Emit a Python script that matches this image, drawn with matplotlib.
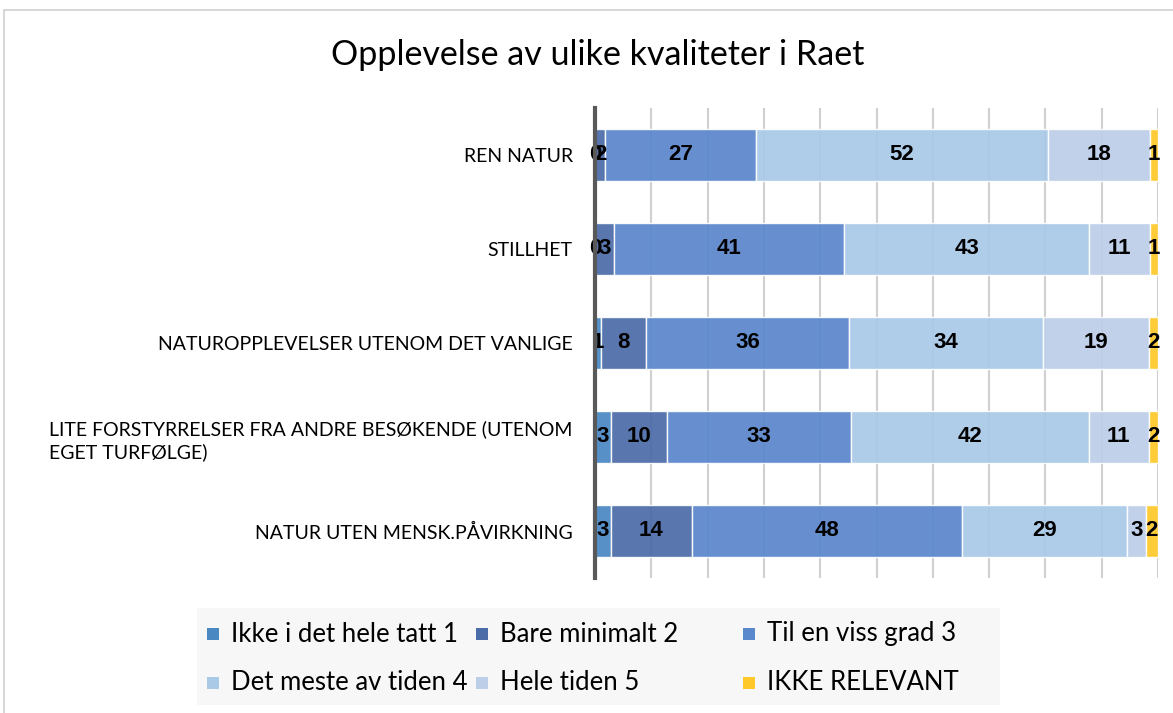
import matplotlib
matplotlib.use("Agg")
import matplotlib.pyplot as plt
from matplotlib.patches import Rectangle
import numpy as np

plt.rcParams['font.family'] = ['Lato', 'DejaVu Sans']

# ------------------------------------- Data ---------------------------------------
categories = [
    "REN NATUR",
    "STILLHET",
    "NATUROPPLEVELSER UTENOM DET VANLIGE",
    "LITE FORSTYRRELSER FRA ANDRE BESØKENDE (UTENOM\nEGET TURFØLGE)",
    "NATUR UTEN MENSK.PÅVIRKNING",
]
series_names = [
    "Ikke i det hele tatt 1",
    "Bare minimalt 2",
    "Til en viss grad 3",
    "Det meste av tiden 4",
    "Hele tiden 5",
    "IKKE RELEVANT",
]
# percentages (bar lengths, labels shown rounded)
ikke_i_det_hele_tatt = [0.0, 0.0, 1.1, 2.8, 2.8]
bare_minimalt = [1.8, 3.4, 8.0, 9.9, 14.4]
til_en_viss_grad = [26.8, 40.9, 36.1, 32.7, 47.9]
det_meste_av_tiden = [51.9, 43.4, 34.4, 42.3, 29.4]
hele_tiden = [18.1, 10.9, 18.8, 10.7, 3.3]
ikke_relevant = [1.4, 1.4, 1.6, 1.6, 2.2]
values = [ikke_i_det_hele_tatt, bare_minimalt, til_en_viss_grad,
          det_meste_av_tiden, hele_tiden, ikke_relevant]

colors = ["#4A88C2", "#4C6CA8", "#5B87CC", "#A9C9E7", "#BDCEE9", "#FFC82A"]

W, H = 1173, 713

# ------------------------------------- Figure ---------------------------------------
fig = plt.figure(figsize=(W / 100, H / 100), dpi=100)
fig.patch.set_facecolor("white")

# chart border (cropped on right/bottom)
fig.patches.append(Rectangle((4 / W, -0.1), 1.2, 1 - 10 / H + 0.1, transform=fig.transFigure,
                             fill=False, edgecolor="#D0D0D0", linewidth=1.2))

ax = fig.add_axes([595 / W, 1 - 578 / H, (1158 - 595) / W, (578 - 108) / H])
ypos = np.arange(len(categories))[::-1]

left = np.zeros(len(categories))
for name, vals, col in zip(series_names, values, colors):
    vals = np.array(vals, dtype=float)
    ax.barh(ypos, vals, left=left, height=0.545, color=col, edgecolor="white",
            linewidth=1, alpha=0.93, zorder=2, label=name)
    for y, l, v in zip(ypos, left, vals):
        ax.text(l + v / 2, y, "%.0f" % v, ha="center", va="center", fontsize=16,
                fontweight="bold", family=["Liberation Sans", "DejaVu Sans"],
                color="black", zorder=4)
    left += vals

ax.set_xlim(0, 100)
ax.set_ylim(-0.5, 4.5)
ax.set_xticks(np.arange(0, 101, 10))
ax.xaxis.grid(True, color="#D0D0D0", linewidth=1.5, zorder=0)
ax.set_axisbelow(True)
ax.tick_params(axis="x", length=0, labelbottom=False)
ax.tick_params(axis="y", length=0, pad=16, labelsize=14)
ax.set_yticks(ypos)
ax.set_yticklabels(categories, linespacing=1.3)
for lbl in ax.get_yticklabels():
    if "\n" in lbl.get_text():
        lbl.set_multialignment("left")
for s in ["top", "right", "bottom"]:
    ax.spines[s].set_visible(False)
ax.spines["left"].set_color("#595959")
ax.spines["left"].set_linewidth(3)
ax.spines["left"].set_zorder(5)

fig.text(598 / W, 1 - 55 / H, "Opplevelse av ulike kvaliteter i Raet", ha="center",
         va="center", fontsize=24.5)

# ------------------------------------- Legend ---------------------------------------
fig.patches.append(Rectangle((197 / W, 1 - 705 / H), (1000 - 197) / W, (705 - 608) / H,
                             transform=fig.transFigure, facecolor="#F7F7F7",
                             edgecolor="none"))
col_x = [207, 476, 743]
row_y = [634, 683]
for i, (name, col) in enumerate(zip(series_names, colors)):
    x = col_x[i % 3]
    y = row_y[i // 3]
    fig.patches.append(Rectangle((x / W, 1 - (y + 6) / H), 12 / W, 12 / H,
                                 transform=fig.transFigure, facecolor=col,
                                 edgecolor="none"))
    fig.text((x + 24) / W, 1 - y / H, name, ha="left", va="center", fontsize=18.5)

fig.savefig("out.png", dpi=100)
